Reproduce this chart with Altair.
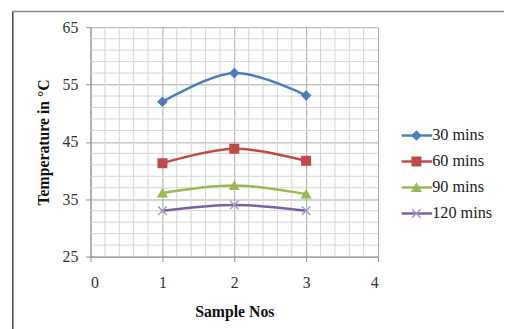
import altair as alt
import pandas as pd

series = ["30 mins", "60 mins", "90 mins", "120 mins"]
samples = [1, 2, 3]
t30 = [52.0, 57.0, 53.1]
t60 = [41.3, 43.8, 41.7]
t90 = [36.1, 37.4, 35.9]
t120 = [33.0, 34.0, 33.0]

colors = ["#4A7EBB", "#BE4B48", "#98B954", "#7D60A0"]
marker_stroke = ["#4A7EBB", "#BE4B48", "#98B954", "#A896C4"]
shapes = ["diamond", "square", "triangle-up", "M-1,-1L1,1M-1,1L1,-1"]

x_ticks = [0, 1, 2, 3, 4]
y_ticks = [25, 35, 45, 55, 65]
x_minor = [round(i * 0.2, 1) for i in range(1, 20) if i % 5 != 0]
y_minor = [v for v in range(27, 65, 2) if (v - 25) % 10 != 0]

rows = []
for name, vals in zip(series, [t30, t60, t90, t120]):
    for s, v in zip(samples, vals):
        rows.append({"series": name, "sample": s, "temp": v})
df = pd.DataFrame(rows)
leg = pd.DataFrame({"series": series, "rank": list(range(len(series)))})

FONT = "Liberation Serif"
W, H = 292, 233

xs = alt.Scale(domain=[0, 4], nice=False, zero=False)
ys = alt.Scale(domain=[25, 65], nice=False, zero=False)
cs = alt.Scale(domain=series, range=colors)
ss = alt.Scale(domain=series, range=shapes)
strs = alt.Scale(domain=series, range=marker_stroke)

minor_v = alt.Chart(pd.DataFrame({"x": x_minor})).mark_rule(
    color="#d4d4d4", strokeWidth=1
).encode(x=alt.X("x:Q", scale=xs), y=alt.datum(25), y2=alt.datum(65))

minor_h = alt.Chart(pd.DataFrame({"y": y_minor})).mark_rule(
    color="#d4d4d4", strokeWidth=1
).encode(y=alt.Y("y:Q", scale=ys), x=alt.datum(0), x2=alt.datum(4))

lines = alt.Chart(df).mark_line(
    interpolate="catmull-rom", strokeWidth=2.5
).encode(
    x=alt.X(
        "sample:Q", scale=xs, title="Sample Nos",
        axis=alt.Axis(values=x_ticks, grid=True, gridColor="#a8a8a8",
                      domainColor="#8c8c8c", tickColor="#8c8c8c", tickSize=5,
                      labelPadding=13, titlePadding=14, format="d"),
    ),
    y=alt.Y(
        "temp:Q", scale=ys, title="Temperature in °C",
        axis=alt.Axis(values=y_ticks, grid=True, gridColor="#a8a8a8",
                      domainColor="#8c8c8c", tickColor="#8c8c8c", tickSize=5,
                      labelPadding=8, titlePadding=11),
    ),
    color=alt.Color("series:N", scale=cs, legend=None),
    detail="series:N",
)

points = alt.Chart(df).mark_point(filled=True, size=75, strokeWidth=1.5, opacity=1).encode(
    x=alt.X("sample:Q", scale=xs),
    y=alt.Y("temp:Q", scale=ys),
    fill=alt.Fill("series:N", scale=cs, legend=None),
    stroke=alt.Stroke("series:N", scale=strs, legend=None),
    shape=alt.Shape("series:N", scale=ss, legend=None),
)

# legend rows laid out in pixels (layout, not data)
legend_base = alt.Chart(leg).transform_calculate(ly="110 + datum.rank * 26.4")
ly = alt.Y("ly:Q", scale=None, axis=None)

leg_lines = legend_base.mark_rule(strokeWidth=2.5).encode(
    x=alt.value(316), x2=alt.value(347), y=ly,
    color=alt.Color("series:N", scale=cs, legend=None),
)
leg_pts = legend_base.mark_point(filled=True, size=75, strokeWidth=1.5, opacity=1).encode(
    x=alt.value(331), y=ly,
    fill=alt.Fill("series:N", scale=cs, legend=None),
    stroke=alt.Stroke("series:N", scale=strs, legend=None),
    shape=alt.Shape("series:N", scale=ss, legend=None),
)
leg_text = legend_base.mark_text(
    align="left", baseline="middle", font=FONT, fontSize=16.5, color="#222222"
).encode(x=alt.value(347), y=ly, text="series:N")

one = pd.DataFrame({"k": [0]})
frame_left = alt.Chart(one).mark_rule(color="#444444", strokeWidth=1.5).encode(
    x=alt.value(-79), y=alt.value(-16), y2=alt.value(310)
)
frame_top = alt.Chart(one).mark_rule(color="#888888", strokeWidth=1.5).encode(
    x=alt.value(-79), x2=alt.value(420), y=alt.value(-16)
)

chart = alt.layer(
    frame_left, frame_top, minor_v, minor_h, lines, points, leg_lines, leg_pts, leg_text
).properties(
    width=W, height=H, background="white",
    padding={"left": 12, "top": 8, "right": 0, "bottom": 0},
).configure_view(stroke=None).configure_axis(
    labelFont=FONT, labelFontSize=16, labelColor="#333333",
    titleFont=FONT, titleFontSize=16, titleFontWeight="bold", titleColor="#111111",
)

chart.save("out.html", embed_options={"renderer": "svg", "actions": False})
